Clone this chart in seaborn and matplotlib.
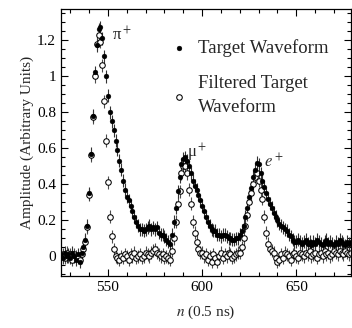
import numpy as np
import pandas as pd
import matplotlib
matplotlib.use('Agg')
import matplotlib.pyplot as plt
import seaborn as sns
from matplotlib.ticker import MultipleLocator, FormatStrFormatter

# sample index n (0.5 ns per sample)
n = list(range(525, 680))

# target waveform (filled dots)
target = [
    0.01, -0.01, 0.02, 0.00, 0.01, -0.01, 0.02, 0.00, -0.02, 0.01,      # 525-534
    -0.03, 0.02, 0.05, 0.09, 0.17, 0.35, 0.57, 0.78, 1.02, 1.17,        # 535-544
    1.26, 1.27, 1.21, 1.11, 1.00, 0.89, 0.80, 0.75, 0.70, 0.64,         # 545-554
    0.59, 0.53, 0.48, 0.42, 0.37, 0.33, 0.31, 0.28, 0.25, 0.22,         # 555-564
    0.19, 0.17, 0.15, 0.15, 0.14, 0.15, 0.16, 0.17, 0.15, 0.16,         # 565-574
    0.15, 0.16, 0.13, 0.12, 0.12, 0.11, 0.09, 0.08, 0.07, 0.12,         # 575-584
    0.19, 0.27, 0.36, 0.44, 0.51, 0.54, 0.55, 0.53, 0.50, 0.46,         # 585-594
    0.42, 0.39, 0.37, 0.34, 0.31, 0.28, 0.25, 0.22, 0.19, 0.17,         # 595-604
    0.15, 0.14, 0.14, 0.12, 0.12, 0.11, 0.12, 0.12, 0.11, 0.10,         # 605-614
    0.10, 0.09, 0.09, 0.10, 0.10, 0.12, 0.14, 0.17, 0.22, 0.27,         # 615-624
    0.33, 0.38, 0.44, 0.48, 0.52, 0.51, 0.46, 0.42, 0.385, 0.35,        # 625-634
    0.32, 0.29, 0.27, 0.24, 0.22, 0.20, 0.18, 0.17, 0.16, 0.15,         # 635-644
    0.14, 0.12, 0.11, 0.09, 0.08, 0.08, 0.09, 0.08, 0.07, 0.08,         # 645-654
    0.09, 0.07, 0.08, 0.06, 0.08, 0.07, 0.09, 0.08, 0.07, 0.06,         # 655-664
    0.08, 0.09, 0.07, 0.08, 0.07, 0.06, 0.08, 0.07, 0.09, 0.08,         # 665-674
    0.07, 0.06, 0.08, 0.07, 0.08,                                       # 675-679
]

# filtered target waveform (open circles)
filtered = [
    0.00, 0.01, -0.01, 0.02, 0.00, 0.01, -0.02, 0.01, 0.00, -0.01,      # 525-534
    -0.02, 0.01, 0.04, 0.08, 0.16, 0.34, 0.56, 0.77, 1.00, 1.18,        # 535-544
    1.23, 1.19, 1.06, 0.86, 0.64, 0.41, 0.22, 0.11, 0.04, 0.00,         # 545-554
    -0.01, -0.02, 0.00, -0.01, 0.01, 0.00, -0.02, 0.01, 0.00, 0.02,     # 555-564
    -0.01, 0.00, 0.01, -0.01, 0.00, 0.02, 0.01, 0.00, 0.02, 0.03,       # 565-574
    0.04, 0.02, 0.01, 0.00, 0.01, -0.01, 0.00, -0.01, -0.02, 0.03,      # 575-584
    0.10, 0.19, 0.29, 0.36, 0.46, 0.50, 0.50, 0.46, 0.37, 0.29,         # 585-594
    0.19, 0.13, 0.08, 0.04, 0.02, 0.02, 0.00, 0.01, -0.02, 0.00,        # 595-604
    -0.03, 0.01, -0.01, -0.03, 0.00, 0.02, -0.01, 0.01, 0.00, 0.02,     # 605-614
    0.01, -0.01, 0.00, 0.01, 0.02, 0.02, 0.05, 0.10, 0.17, 0.23,        # 615-624
    0.30, 0.35, 0.40, 0.44, 0.46, 0.42, 0.37, 0.32, 0.22, 0.13,         # 625-634
    0.07, 0.04, 0.03, 0.02, -0.01, -0.03, -0.02, 0.01, -0.01, 0.02,     # 635-644
    0.01, 0.00, -0.02, 0.01, 0.02, 0.00, -0.01, 0.02, 0.01, 0.00,       # 645-654
    0.02, 0.01, 0.03, 0.00, 0.01, 0.02, -0.01, 0.01, 0.02, 0.00,        # 655-664
    0.03, 0.01, 0.02, 0.00, 0.01, 0.03, 0.02, 0.01, 0.03, 0.02,         # 665-674
    0.01, 0.03, 0.02, 0.01, 0.02,                                       # 675-679
]

err = 0.036  # error bar half-height

df = pd.DataFrame({'n': n, 'target': target, 'filtered': filtered})

sns.set_theme(style='ticks')
plt.rcParams['font.family'] = ['Liberation Serif', 'DejaVu Serif']
plt.rcParams['mathtext.fontset'] = 'stix'

fig = plt.figure(figsize=(3.52, 3.28), dpi=100)
ax = fig.add_axes([0.173, 0.1585, 0.824, 0.814])

ax.errorbar(df['n'], df['filtered'], yerr=err, fmt='none', ecolor='0.3', elinewidth=0.8, zorder=1)
ax.errorbar(df['n'], df['target'], yerr=err, fmt='none', ecolor='0.2', elinewidth=0.8, zorder=1)
sns.scatterplot(data=df, x='n', y='filtered', ax=ax, marker='o', s=16,
                facecolor='white', edgecolor='black', linewidth=0.75, zorder=2,
                label='Filtered Target\nWaveform')
sns.scatterplot(data=df, x='n', y='target', ax=ax, marker='o', s=12,
                color='black', edgecolor='black', linewidth=0.3, zorder=3,
                label='Target Waveform')

ax.set_xlim(525, 679)
ax.set_ylim(-0.11, 1.372)
ax.xaxis.set_major_locator(MultipleLocator(50))
ax.xaxis.set_minor_locator(MultipleLocator(10))
ax.yaxis.set_major_locator(MultipleLocator(0.2))
ax.yaxis.set_minor_locator(MultipleLocator(0.05))
ax.yaxis.set_major_formatter(FormatStrFormatter('%g'))
ax.tick_params(which='both', direction='in', top=True, right=True, colors='black',
               labelsize=11, width=0.8)
ax.tick_params(which='major', length=5)
ax.tick_params(which='minor', length=3)
for sp in ax.spines.values():
    sp.set_linewidth(0.9)
    sp.set_color('black')

ax.set_xlabel('$n$ (0.5 ns)', fontsize=11, labelpad=7)
ax.set_ylabel('Amplitude (Arbitrary Units)', fontsize=11, labelpad=2)

ax.text(552, 1.2, 'π$^+$', fontsize=12)
ax.text(592, 0.55, 'μ$^+$', fontsize=12)
ax.text(633, 0.49, '$e^+$', fontsize=12)

handles, labels = ax.get_legend_handles_labels()
leg = ax.legend(handles[::-1], labels[::-1], loc='upper left', bbox_to_anchor=(0.33, 0.935),
                frameon=False, fontsize=13.5, handlelength=1.0, handletextpad=0.5,
                labelspacing=0.95, borderpad=0.2)
for t in leg.get_texts():
    t.set_linespacing(1.55)

fig.savefig('out.png', dpi=100)
